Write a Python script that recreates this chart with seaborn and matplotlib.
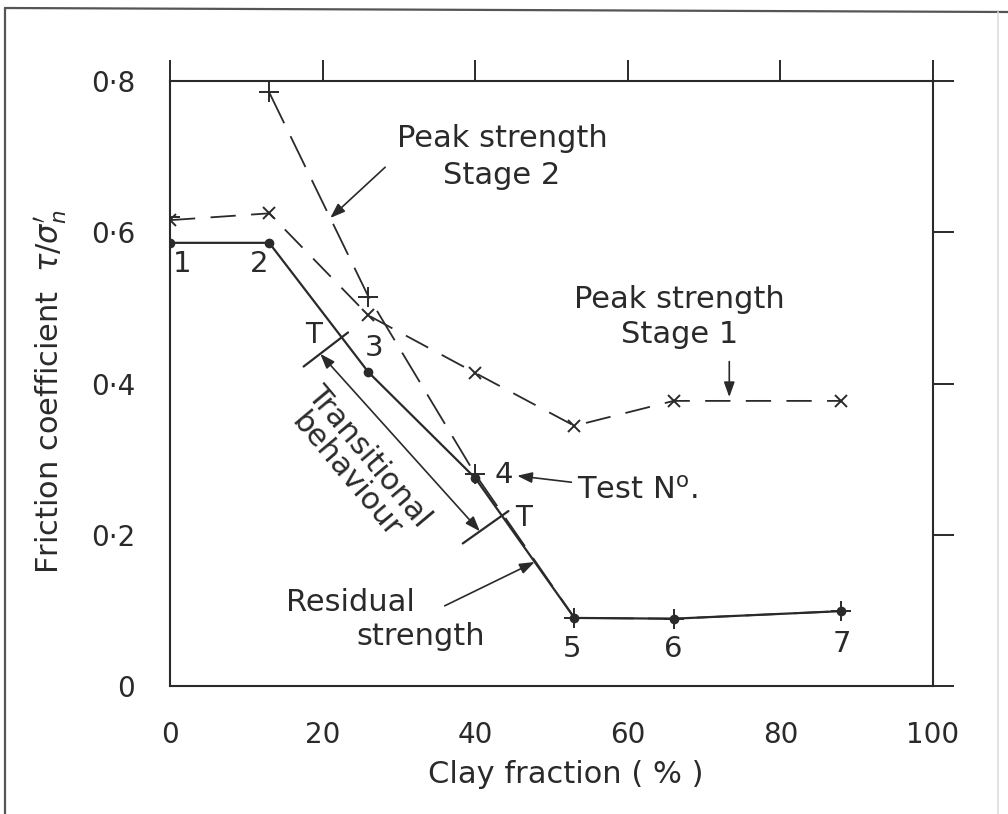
import numpy as np
import matplotlib
matplotlib.use("Agg")
import matplotlib.pyplot as plt
from matplotlib.lines import Line2D
from matplotlib.transforms import offset_copy
import seaborn as sns

# ---- data -------------------------------------------------------------
test_no = [1, 2, 3, 4, 5, 6, 7]
clay_fraction = [0, 13, 26, 40, 53, 66, 88]
residual = [0.586, 0.586, 0.415, 0.275, 0.090, 0.089, 0.099]
peak_stage1 = [0.616, 0.625, 0.490, 0.414, 0.344, 0.377, 0.377]
peak_stage2 = [0.620, 0.785, 0.515, 0.280, 0.090, 0.089, 0.099]

# clay fractions bounding the transitional behaviour
transition_bounds = [22.5, 43.5]

x_ticks = [0, 20, 40, 60, 80, 100]
x_tick_labels = ["0", "20", "40", "60", "80", "100"]
y_ticks = [0, 0.2, 0.4, 0.6, 0.8]
y_tick_labels = ["0", "0·2", "0·4", "0·6", "0·8"]

# ---- style ------------------------------------------------------------
sns.set_theme(style="white")
plt.rcParams["font.family"] = ["DejaVu Sans"]
plt.rcParams["mathtext.fontset"] = "dejavusans"
INK = "#2a2a2a"
FS = 22      # captions
FS_NUM = 20  # tick labels and test numbers
plt.rcParams["text.color"] = INK

fig = plt.figure(figsize=(10.08, 8.14), dpi=100)
W, H = 1008, 814
ax = fig.add_axes([170 / W, 1 - 686 / H, 763 / W, 605 / H])
ax.set_xlim(0, 100)
ax.set_ylim(0, 0.8)

# ---- series -----------------------------------------------------------
sns.lineplot(x=clay_fraction, y=residual, ax=ax, color=INK, lw=1.6,
             marker="o", markersize=7, markeredgewidth=0, sort=False)

sns.lineplot(x=clay_fraction, y=peak_stage1, ax=ax, color=INK, lw=1.3,
             marker="x", markersize=9, markeredgewidth=1.4,
             markeredgecolor=INK, sort=False)
ax.lines[-1].set_dashes([14, 8.5])

sns.lineplot(x=clay_fraction[1:], y=peak_stage2[1:], ax=ax, color=INK, lw=1.3,
             marker="+", markersize=14, markeredgewidth=1.4,
             markeredgecolor=INK, sort=False)
ax.lines[-1].set_dashes([19, 8])
sns.lineplot(x=clay_fraction[:1], y=peak_stage2[:1], ax=ax, color=INK,
             marker="+", markersize=14, markeredgewidth=1.4,
             markeredgecolor=INK, linestyle="none")

# ---- axes frame -------------------------------------------------------
for side in ["left", "right", "top", "bottom"]:
    ax.spines[side].set_visible(True)
    ax.spines[side].set_color(INK)
    ax.spines[side].set_linewidth(1.5)
ax.set_xticks(x_ticks)
ax.set_xticklabels(x_tick_labels)
ax.set_yticks(y_ticks)
ax.set_yticklabels(y_tick_labels)
ax.tick_params(which="both", direction="out", length=15, width=1.4,
               color=INK, labelcolor=INK, labelsize=FS_NUM,
               top=True, right=True, labeltop=False, labelright=False)
ax.tick_params(axis="x", pad=10)
ax.tick_params(axis="y", pad=10)

ax.set_xlabel("Clay fraction ( % )", fontsize=FS, color=INK, va="top")
ax.xaxis.set_label_coords((566 - 170) / 763, (686 - 760) / 605)
ax.set_ylabel(r"Friction coefficient  $\tau/\sigma_n^{\prime}$", fontsize=FS,
              color=INK, va="bottom")
ax.yaxis.set_label_coords((70 - 170) / 763, (686 - 392) / 605)

# ---- test numbers -----------------------------------------------------
num_offsets = [(12, -21), (-10, -21), (6, 24), (29, 3), (-2, -31), (0, -30), (0, -33)]
for n, xv, yv, off in zip(test_no, clay_fraction, residual, num_offsets):
    ax.annotate(str(n), (xv, yv), xytext=off, textcoords="offset pixels",
                ha="center", va="center", fontsize=FS_NUM + 1, color=INK)

# ---- transition marks -------------------------------------------------
fig.canvas.draw()
to_disp = ax.transData.transform


def perp_at(xv):
    """Unit normal (display coords, pointing up-right) to the residual line at xv."""
    i = np.searchsorted(clay_fraction, xv) - 1
    p0 = to_disp((clay_fraction[i], residual[i]))
    p1 = to_disp((clay_fraction[i + 1], residual[i + 1]))
    d = (p1 - p0) / np.hypot(*(p1 - p0))
    n = np.array([-d[1], d[0]])
    return n if n[0] > 0 else -n


def shifted(v):
    return offset_copy(ax.transData, fig=fig, x=v[0], y=v[1], units="dots")


t_pts = [(xv, float(np.interp(xv, clay_fraction, residual))) for xv in transition_bounds]
t_label_off = [(-28, 2), (22, -2)]
for (xv, yv), loff in zip(t_pts, t_label_off):
    n = perp_at(xv)
    ax.annotate("", xy=(xv, yv), xycoords=shifted(n * 8),
                xytext=(xv, yv), textcoords=shifted(-n * 48),
                arrowprops=dict(arrowstyle="-", color=INK, lw=1.6,
                                shrinkA=0, shrinkB=0))
    ax.annotate("T", (xv, yv), xytext=loff, textcoords="offset pixels",
                ha="center", va="center", fontsize=FS_NUM, color=INK)

n1, n2 = perp_at(t_pts[0][0]), perp_at(t_pts[1][0])
ax.annotate("", xy=t_pts[1], xycoords=shifted(-n2 * 27),
            xytext=t_pts[0], textcoords=shifted(-n1 * 27),
            arrowprops=dict(arrowstyle="<|-|>,head_length=0.5,head_width=0.18",
                            mutation_scale=18, color=INK, lw=1.2,
                            shrinkA=0, shrinkB=0))
ax.text(24.6, 0.291, "Transitional\nbehaviour", rotation=-50,
        rotation_mode="anchor", ha="center", va="center",
        multialignment="center", fontsize=FS, color=INK, linespacing=1.05)

# ---- captions and pointers --------------------------------------------
arrow = dict(arrowstyle="-|>,head_length=0.5,head_width=0.18",
             mutation_scale=18, color=INK, lw=1.2, shrinkA=0, shrinkB=0)

ax.text(43.5, 0.700, "Peak strength\nStage 2", ha="center", va="center",
        fontsize=FS, color=INK, linespacing=1.35)
x_s2 = 21.0
ax.annotate("", xy=(x_s2, np.interp(x_s2, clay_fraction[1:], peak_stage2[1:])),
            xytext=(28.2, 0.686), arrowprops=arrow)

ax.text(66.8, 0.488, "Peak strength\nStage 1", ha="center", va="center",
        fontsize=FS, color=INK, linespacing=1.3)
x_s1 = 73.3
ax.annotate("", xy=(x_s1, np.interp(x_s1, clay_fraction, peak_stage1) + 0.005),
            xytext=(x_s1, 0.429), arrowprops=arrow)

ax.annotate(r"Test N$^{\mathrm{o}}$.", xy=(45.5, 0.278), xytext=(53.4, 0.259),
            ha="left", va="center", fontsize=FS, color=INK,
            arrowprops=dict(arrow, shrinkA=2))

ax.text(23.6, 0.110, "Residual", ha="center", va="center", fontsize=FS, color=INK)
ax.text(32.8, 0.065, "strength", ha="center", va="center", fontsize=FS, color=INK)
x_rs = 47.8
ax.annotate("", xy=(x_rs, np.interp(x_rs, clay_fraction, residual)),
            xytext=(36.0, 0.106), arrowprops=arrow)

# ---- outer border -----------------------------------------------------
fig.add_artist(Line2D([5 / W, 5 / W], [0, 1 - 8 / H], transform=fig.transFigure,
                      color="#555555", lw=1.6))
fig.add_artist(Line2D([5 / W, 1], [1 - 8 / H, 1 - 12 / H], transform=fig.transFigure,
                      color="#555555", lw=1.6))
fig.add_artist(Line2D([998 / W, 998 / W], [0, 1 - 12 / H], transform=fig.transFigure,
                      color="#dddddd", lw=1.2))

fig.savefig("out.png", dpi=100, facecolor="white")
